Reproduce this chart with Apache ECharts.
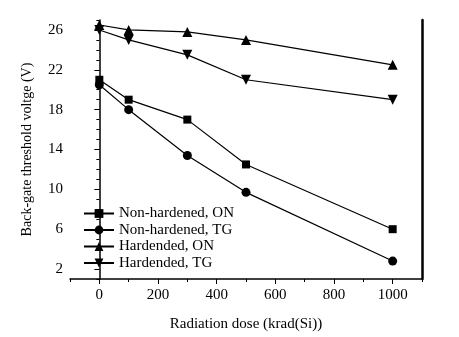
<!DOCTYPE html>
<html><head><meta charset="utf-8">
<script src="https://cdn.jsdelivr.net/npm/echarts@6/dist/echarts.min.js"></script>
<style>html,body{margin:0;padding:0;background:#fff}#c{width:459px;height:337px}</style>
</head><body><div id="c"></div>
<script>
const doses = [0, 100, 300, 500, 1000];
const nonHardenedON = [21.0, 19.0, 17.0, 12.5, 6.0];
const nonHardenedTG = [20.5, 18.0, 13.4, 9.7, 2.8];
const hardenedON = [26.5, 26.0, 25.8, 25.0, 22.5];
const hardenedTG = [26.0, 25.0, 23.5, 21.0, 19.0];
const xTickLabels = [0, 200, 400, 600, 800, 1000];
const yTickLabels = [2, 6, 10, 14, 18, 22, 26];
const seriesNames = ['Non-hardened, ON', 'Non-hardened, TG', 'Hardended, ON', 'Hardended, TG'];

const font = 'Liberation Serif';
const chart = echarts.init(document.getElementById('c'));
const pairs = v => doses.map((d, i) => [d, v[i]]);
const mk = (name, data, symbol, size, rot) => ({
  name, type: 'line', data: pairs(data), symbol, symbolSize: size, symbolRotate: rot || 0,
  lineStyle: {color: '#000', width: 1.2}, itemStyle: {color: '#000'}, xAxisIndex: 0, yAxisIndex: 0,
  animation: false
});
chart.setOption({
  backgroundColor: '#fff',
  animation: false,
  grid: {left: 70, right: 37, top: 20, bottom: 55},
  legend: {
    left: 78, top: 201, orient: 'vertical', itemGap: 1.5, itemWidth: 30, itemHeight: 11,
    textStyle: {fontFamily: font, fontSize: 15, color: '#000'},
    data: seriesNames
  },
  xAxis: [{
    type: 'value', min: -100, max: 1100, interval: 100,
    name: 'Radiation dose (krad(Si))', nameLocation: 'middle', nameGap: 38,
    nameTextStyle: {fontFamily: font, fontSize: 15, color: '#000'},
    axisLine: {lineStyle: {color: '#000', width: 1.5}},
    axisTick: {length: 3, lineStyle: {color: '#000', width: 1}},
    axisLabel: {show: false},
    splitLine: {show: false}
  }, {
    type: 'value', min: -100, max: 1100, position: 'bottom',
    axisLine: {show: false},
    axisTick: {show: true, length: 5, customValues: xTickLabels, lineStyle: {color: '#000', width: 1}},
    axisLabel: {customValues: xTickLabels, formatter: v => String(v), fontFamily: font, fontSize: 15, color: '#000', margin: 9},
    splitLine: {show: false}
  }],
  yAxis: [{
    type: 'value', min: 1, max: 27, interval: 1,
    name: 'Back-gate threshold voltge (V)', nameLocation: 'middle', nameGap: 36,
    nameTextStyle: {fontFamily: font, fontSize: 14, color: '#000'},
    axisLine: {show: true, lineStyle: {color: '#000', width: 1.5}},
    axisTick: {show: true, length: 3, lineStyle: {color: '#000', width: 1}},
    axisLabel: {show: false},
    splitLine: {show: false}
  }, {
    type: 'value', min: 1, max: 27, position: 'left',
    axisLine: {show: false},
    axisTick: {show: true, length: 5, customValues: yTickLabels, lineStyle: {color: '#000', width: 1}},
    axisLabel: {customValues: yTickLabels, formatter: v => String(v), fontFamily: font, fontSize: 15, color: '#000', margin: 7},
    splitLine: {show: false}
  }, {
    type: 'value', min: 1, max: 27, position: 'right',
    axisLine: {show: true, lineStyle: {color: '#000', width: 2.5}},
    axisTick: {show: false}, axisLabel: {show: false}, splitLine: {show: false}
  }],
  series: [
    mk(seriesNames[0], nonHardenedON, 'rect', 8),
    mk(seriesNames[1], nonHardenedTG, 'circle', 9),
    mk(seriesNames[2], hardenedON, 'triangle', 10),
    mk(seriesNames[3], hardenedTG, 'triangle', 10, 180)
  ]
});
</script></body></html>
